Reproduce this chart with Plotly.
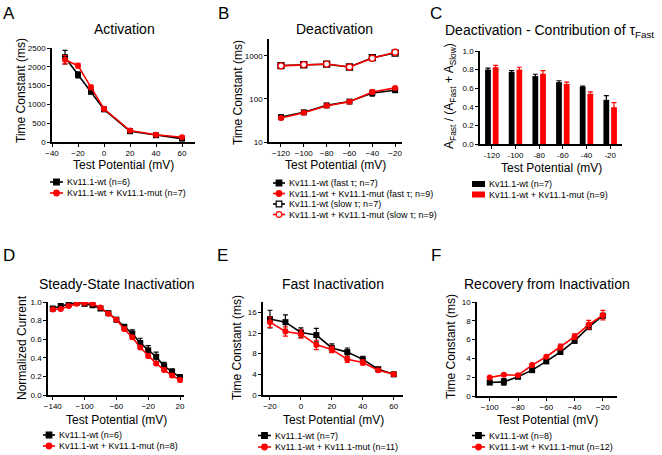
import plotly.graph_objects as go

W, H = 662, 455
FONT = "Arial, 'Liberation Sans', Helvetica, sans-serif"
BLACK = "#000000"
RED = "#ff0000"

# ---------------- data ----------------
# A: Activation
act_v = [-30, -20, -10, 0, 20, 40, 60]
act_wt = [2255, 1785, 1335, 868, 288, 180, 90]
act_wt_err = [180, 80, 50, 50, 30, 20, 20]
act_mut = [2190, 2030, 1455, 882, 305, 192, 128]
act_mut_err = [110, 60, 60, 45, 30, 20, 20]

# B: Deactivation
deact_v = [-120, -100, -80, -60, -40, -20]
fast_wt = [38, 49, 71, 87, 138, 160]
fast_wt_err = [3, 2, 4, 5, 22, 10]
fast_mut = [36, 48, 70, 86, 146, 181]
fast_mut_err = [3, 2, 4, 4, 14, 14]
slow_wt = [600, 625, 645, 555, 915, 1170]
slow_wt_err = [45, 50, 60, 40, 110, 90]
slow_mut = [590, 630, 650, 555, 885, 1220]
slow_mut_err = [40, 50, 50, 40, 90, 100]

# C: Contribution of tau fast
contrib_cat = ["-120", "-100", "-80", "-60", "-40", "-20"]
contrib_wt = [0.80, 0.775, 0.73, 0.665, 0.615, 0.475]
contrib_wt_err = [0.015, 0.015, 0.02, 0.015, 0.008, 0.045]
contrib_mut = [0.825, 0.80, 0.755, 0.645, 0.54, 0.395]
contrib_mut_err = [0.02, 0.025, 0.035, 0.02, 0.02, 0.05]

# D: Steady-state inactivation
ssi_v = [-140, -130, -120, -110, -100, -90, -80, -70, -60, -50, -40, -30, -20, -10, 0, 10, 20]
ssi_wt = [0.93, 0.957, 0.975, 0.99, 0.98, 0.965, 0.93, 0.88, 0.81, 0.73, 0.66, 0.56, 0.48, 0.41, 0.31, 0.25, 0.19]
ssi_wt_err = [0.01, 0.01, 0.01, 0.01, 0.01, 0.01, 0.01, 0.015, 0.02, 0.03, 0.04, 0.05, 0.05, 0.05, 0.04, 0.03, 0.03]
ssi_mut = [0.92, 0.925, 0.957, 0.98, 0.99, 0.98, 0.94, 0.875, 0.81, 0.71, 0.62, 0.51, 0.42, 0.34, 0.27, 0.21, 0.16]
ssi_mut_err = [0.01, 0.01, 0.01, 0.01, 0.01, 0.01, 0.01, 0.01, 0.015, 0.02, 0.02, 0.02, 0.02, 0.02, 0.02, 0.02, 0.02]

# E: Fast inactivation
fi_v = [-20, -10, 0, 10, 20, 30, 40, 50, 60]
fi_wt = [14.7, 14.1, 12.1, 11.6, 9.1, 8.3, 6.9, 5.0, 4.0]
fi_wt_err = [1.7, 1.4, 0.9, 1.3, 0.8, 0.8, 0.6, 0.3, 0.4]
fi_mut = [14.1, 12.3, 11.8, 9.7, 8.8, 6.9, 6.3, 4.8, 4.0]
fi_mut_err = [1.0, 0.9, 0.8, 0.9, 0.6, 0.6, 0.5, 0.3, 0.3]

# F: Recovery from inactivation
rec_v = [-100, -90, -80, -70, -60, -50, -40, -30, -20]
rec_wt = [1.43, 1.5, 2.04, 2.75, 3.68, 4.68, 5.86, 7.32, 8.54]
rec_wt_err = [0.15, 0.35, 0.12, 0.15, 0.15, 0.15, 0.15, 0.2, 0.2]
rec_mut = [1.96, 2.25, 2.21, 3.29, 4.18, 5.21, 6.32, 7.6, 8.6]
rec_mut_err = [0.1, 0.1, 0.1, 0.15, 0.15, 0.3, 0.3, 0.45, 0.5]

# ---------------- helpers ----------------
def px(x):
    return x / W

def py(y):
    return 1 - y / H

fig = go.Figure()

def line_trace(x, y, err, color, symbol, axis, open_marker=False):
    xa, ya = ("x", "y") if axis == 1 else (f"x{axis}", f"y{axis}")
    fig.add_trace(go.Scatter(
        x=x, y=y, xaxis=xa, yaxis=ya, mode="lines+markers",
        line=dict(color=color, width=1.6),
        marker=dict(symbol=symbol, size=6,
                    color="white" if open_marker else color,
                    line=dict(color=color, width=1.3 if open_marker else 0)),
        error_y=dict(type="data", array=err, visible=True, color=color,
                     thickness=1.2, width=2.5),
        showlegend=False, hoverinfo="x+y"))

# A
line_trace(act_v, act_wt, act_wt_err, BLACK, "square", 1)
line_trace(act_v, act_mut, act_mut_err, RED, "circle", 1)
# B
line_trace(deact_v, slow_wt, slow_wt_err, BLACK, "square", 2, open_marker=True)
line_trace(deact_v, slow_mut, slow_mut_err, RED, "circle", 2, open_marker=True)
line_trace(deact_v, fast_wt, fast_wt_err, BLACK, "square", 2)
line_trace(deact_v, fast_mut, fast_mut_err, RED, "circle", 2)
# C
fig.add_trace(go.Bar(x=contrib_cat, y=contrib_wt, xaxis="x3", yaxis="y3",
                     marker=dict(color=BLACK, line=dict(width=0)),
                     error_y=dict(type="data", array=contrib_wt_err, color=BLACK,
                                  thickness=1.2, width=2.5),
                     showlegend=False))
fig.add_trace(go.Bar(x=contrib_cat, y=contrib_mut, xaxis="x3", yaxis="y3",
                     marker=dict(color=RED, line=dict(width=0)),
                     error_y=dict(type="data", array=contrib_mut_err, color=RED,
                                  thickness=1.2, width=2.5),
                     showlegend=False))
# D
line_trace(ssi_v, ssi_wt, ssi_wt_err, BLACK, "square", 4)
line_trace(ssi_v, ssi_mut, ssi_mut_err, RED, "circle", 4)
# E
line_trace(fi_v, fi_wt, fi_wt_err, BLACK, "square", 5)
line_trace(fi_v, fi_mut, fi_mut_err, RED, "circle", 5)
# F
line_trace(rec_v, rec_wt, rec_wt_err, BLACK, "square", 6)
line_trace(rec_v, rec_mut, rec_mut_err, RED, "circle", 6)

# ---------------- axes ----------------
def axis_style(**kw):
    d = dict(showline=True, linecolor=BLACK, linewidth=1.5, ticks="outside",
             ticklen=3, tickwidth=1, tickcolor=BLACK, showgrid=False,
             zeroline=False, tickfont=dict(family=FONT, size=8, color=BLACK),
             mirror=False)
    d.update(kw)
    return d

# pixel boxes: (x0, x1, ytop, ybottom)
boxes = {
    1: (52, 195, 48, 142),
    2: (269, 402, 39, 142),
    3: (480, 622, 51, 144),
    4: (48, 184, 302, 395),
    5: (263, 403, 302, 395),
    6: (477, 617, 302, 396),
}

def dom(b):
    x0, x1, yt, yb = b
    return [px(x0), px(x1)], [py(yb), py(yt)]

layout = {}
xcfg = {
    1: dict(range=[-40, 70], tickvals=[-40, -20, 0, 20, 40, 60]),
    2: dict(range=[-130.5, -14], tickvals=[-120, -100, -80, -60, -40, -20]),
    3: dict(type="category", range=[-0.5, 5.5]),
    4: dict(range=[-146, 25], tickvals=[-140, -100, -60, -20, 20]),
    5: dict(range=[-24.5, 66], tickvals=[-20, 0, 20, 40, 60]),
    6: dict(range=[-109, -10], tickvals=[-100, -80, -60, -40, -20]),
}
ycfg = {
    1: dict(range=[0, 2500], tickvals=[0, 500, 1000, 1500, 2000, 2500]),
    2: dict(type="log", range=[1, 3.395], tickvals=[10, 100, 1000]),
    3: dict(range=[0, 1], tickvals=[0, 0.2, 0.4, 0.6, 0.8, 1.0], tickformat=".1f"),
    4: dict(range=[0, 1], tickvals=[0, 0.2, 0.4, 0.6, 0.8, 1.0], tickformat=".1f"),
    5: dict(range=[0, 18], tickvals=[0, 4, 8, 12, 16]),
    6: dict(range=[0, 10], tickvals=[0, 2, 4, 6, 8, 10]),
}
for i in range(1, 7):
    xd, yd = dom(boxes[i])
    xn = "xaxis" if i == 1 else f"xaxis{i}"
    yn = "yaxis" if i == 1 else f"yaxis{i}"
    anchor_x = "y" if i == 1 else f"y{i}"
    anchor_y = "x" if i == 1 else f"x{i}"
    layout[xn] = axis_style(domain=xd, anchor=anchor_x, **xcfg[i])
    layout[yn] = axis_style(domain=yd, anchor=anchor_y, **ycfg[i])

# ---------------- annotations ----------------
ann = []

def text(x, y, s, size, xanchor="center", yanchor="middle", angle=0):
    ann.append(dict(x=px(x), y=py(y), xref="paper", yref="paper", text=s,
                    showarrow=False, xanchor=xanchor, yanchor=yanchor,
                    textangle=angle,
                    font=dict(family=FONT, size=size, color=BLACK)))

# panel letters
for s, x, y in [("A", 9, 13), ("B", 223, 13), ("C", 436, 13),
                ("D", 9, 255), ("E", 222, 255), ("F", 436, 255)]:
    text(x, y, s, 17)

# panel titles
text(124, 29, "Activation", 14)
text(335, 29, "Deactivation", 14)
text(443, 31, "Deactivation - Contribution of τ<sub>Fast</sub>", 14, xanchor="left")
text(117, 284, "Steady-State Inactivation", 14)
text(333, 284, "Fast Inactivation", 14)
text(547, 284, "Recovery from Inactivation", 14)

# x titles
for i, yy in [(1, 165), (2, 165), (3, 168), (4, 420), (5, 420), (6, 420)]:
    x0, x1, _, _ = boxes[i]
    text((x0 + x1) / 2, yy, "Test Potential (mV)", 12)

# y titles
text(21, 91, "Time Constant (ms)", 12, angle=-90)
text(238, 93, "Time Constant (ms)", 12, angle=-90)
text(450, 96, "A<sub>Fast</sub> / (A<sub>Fast</sub> + A<sub>Slow</sub>)", 12, angle=-90)
text(22, 348, "Normalized Current", 12, angle=-90)
text(237, 348, "Time Constant (ms)", 12, angle=-90)
text(451, 347, "Time Constant (ms)", 12, angle=-90)

# ---------------- legends (shapes + text) ----------------
shapes = []

def leg_line(x0, x1, y, color, symbol, label, open_marker=False):
    shapes.append(dict(type="line", xref="paper", yref="paper",
                       x0=px(x0), x1=px(x1), y0=py(y), y1=py(y),
                       line=dict(color=color, width=1.6)))
    cx = (x0 + x1) / 2
    r = 2.8
    fill = "white" if open_marker else color
    shapes.append(dict(type="rect" if symbol == "square" else "circle",
                       xref="paper", yref="paper",
                       x0=px(cx - r), x1=px(cx + r), y0=py(y + r), y1=py(y - r),
                       fillcolor=fill, line=dict(color=color, width=1.2)))
    text(x1 + 2, y, label, 9, xanchor="left")

def leg_box(x0, x1, y, color, label):
    shapes.append(dict(type="rect", xref="paper", yref="paper",
                       x0=px(x0), x1=px(x1), y0=py(y + 3), y1=py(y - 3),
                       fillcolor=color, line=dict(width=0)))
    text(x1 + 2, y, label, 9, xanchor="left")

leg_line(50, 63, 182, BLACK, "square", "Kv11.1-wt (n=6)")
leg_line(50, 63, 193, RED, "circle", "Kv11.1-wt + Kv11.1-mut (n=7)")

leg_line(273, 285, 183, BLACK, "square", "Kv11.1-wt (fast τ; n=7)")
leg_line(273, 285, 193.5, RED, "circle", "Kv11.1-wt + Kv11.1-mut (fast τ; n=9)")
leg_line(273, 285, 204, BLACK, "square", "Kv11.1-wt (slow τ; n=7)", open_marker=True)
leg_line(273, 285, 214.5, RED, "circle", "Kv11.1-wt + Kv11.1-mut (slow τ; n=9)", open_marker=True)

leg_box(472, 485, 184, BLACK, "Kv11.1-wt (n=7)")
leg_box(472, 485, 194.5, RED, "Kv11.1-wt + Kv11.1-mut (n=9)")

leg_line(43, 55, 435, BLACK, "square", "Kv11.1-wt (n=6)")
leg_line(43, 55, 446, RED, "circle", "Kv11.1-wt + Kv11.1-mut (n=8)")

leg_line(258, 271, 435.5, BLACK, "square", "Kv11.1-wt (n=7)")
leg_line(258, 271, 447, RED, "circle", "Kv11.1-wt + Kv11.1-mut (n=11)")

leg_line(472, 485, 435.5, BLACK, "square", "Kv11.1-wt (n=8)")
leg_line(472, 485, 447, RED, "circle", "Kv11.1-wt + Kv11.1-mut (n=12)")

fig.update_layout(
    width=W, height=H, autosize=False,
    margin=dict(l=0, r=0, t=0, b=0, pad=0),
    paper_bgcolor="white", plot_bgcolor="white",
    template="none",
    font=dict(family=FONT, size=9, color=BLACK),
    barmode="group", bargap=0.35, bargroupgap=0.25,
    showlegend=False,
    annotations=ann, shapes=shapes,
    **layout,
)

fig.write_html("out.html", config={"displayModeBar": False},
               post_script="document.body.style.margin='0px';document.body.style.padding='0px';")
